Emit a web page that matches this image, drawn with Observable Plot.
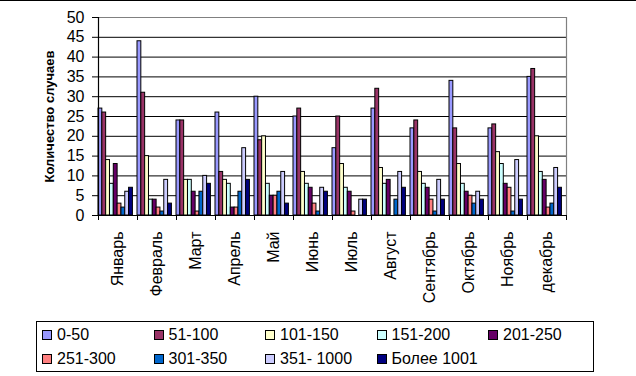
<!DOCTYPE html>
<html>
<head>
<meta charset="utf-8">
<script src="https://cdn.jsdelivr.net/npm/d3@7"></script>
<script src="https://cdn.jsdelivr.net/npm/@observablehq/plot@0.6"></script>
<style>
  html, body { margin: 0; padding: 0; background: #fff; }
  #wrap { position: relative; width: 636px; height: 376px; overflow: hidden; font-family: "Liberation Sans", Arial, sans-serif; }
  #topline { position: absolute; left: 0; top: 0; width: 636px; height: 1px; background: #000; z-index: 3; }
  #legend { position: absolute; left: 36px; top: 321px; width: 558px; height: 51px; border: 1px solid #000; box-sizing: border-box; }
  .item { position: absolute; height: 18px; }
  .sw { position: absolute; left: 0; top: 4px; width: 10px; height: 10px; border: 1px solid #000; box-sizing: border-box; }
  .lab { position: absolute; left: 15px; top: 0; font-size: 16px; line-height: 18px; white-space: nowrap; color: #000; }
</style>
</head>
<body>
<div id="wrap"><div id="topline"></div><div id="chart"></div><div id="legend"></div></div>
<script>
const months = ["Январь", "Февраль", "Март", "Апрель", "Май", "Июнь", "Июль", "Август", "Сентябрь", "Октябрь", "Ноябрь", "декабрь"];
const series = ["0-50", "51-100", "101-150", "151-200", "201-250", "251-300", "301-350", "351- 1000", "Более 1001"];
const colors = ["#9999FF", "#993366", "#FFFFCC", "#CCFFFF", "#660066", "#FF8080", "#0066CC", "#CCCCFF", "#000080"];

const v0_50     = [27, 44, 24, 26, 30, 25, 17, 27, 22, 34, 22, 35];
const v51_100   = [26, 31, 24, 11, 19, 27, 25, 32, 24, 22, 23, 37];
const v101_150  = [14, 15, 9, 9, 20, 11, 13, 12, 11, 13, 16, 20];
const v151_200  = [8, 4, 9, 8, 8, 8, 7, 8, 8, 8, 13, 11];
const v201_250  = [13, 4, 6, 2, 5, 7, 6, 9, 7, 6, 8, 9];
const v251_300  = [3, 2, 1, 2, 5, 3, 1, 0, 4, 5, 7, 2];
const v301_350  = [2, 1, 6, 6, 6, 1, 0, 4, 1, 3, 1, 3];
const v351_1000 = [6, 9, 10, 17, 11, 7, 4, 11, 9, 6, 14, 12];
const vOver1001 = [7, 3, 8, 9, 3, 6, 4, 7, 4, 4, 4, 7];

const yTicks = [0, 5, 10, 15, 20, 25, 30, 35, 40, 45, 50];
const yTitle = "Количество случаев";

const seriesValues = [v0_50, v51_100, v101_150, v151_200, v201_250, v251_300, v301_350, v351_1000, vOver1001];
const data = [];
seriesValues.forEach((vals, i) => vals.forEach((v, m) => data.push({month: months[m], series: series[i], i, value: v})));

const xMax = 10.2; // cluster width + gap inside each month band
const first = months[0], last = months[months.length - 1];

const chart = Plot.plot({
  width: 636,
  height: 320,
  marginLeft: 97,
  marginRight: 70,
  marginTop: 17,
  marginBottom: 105,
  style: {fontFamily: "'Liberation Sans', Arial, sans-serif", fontSize: "16px", color: "#000", background: "transparent", overflow: "visible"},
  fx: {domain: months, paddingInner: 0, paddingOuter: 0, tickSize: 0, tickRotate: -90, tickPadding: 16, label: null},
  x: {domain: [0, xMax], axis: null},
  y: {domain: [0, 50], ticks: yTicks, tickSize: 6, tickPadding: 8, label: null},
  color: {domain: series, range: colors},
  marks: [
    Plot.ruleY(yTicks.filter(t => t > 0 && t < 50), {stroke: "#000", strokeWidth: 1}),
    Plot.ruleY([50], {stroke: "#808080", strokeWidth: 1.2}),
    Plot.rect(data.filter(d => d.value > 0), {fx: "month", x1: "i", x2: d => d.i + 1, y1: 0, y2: "value", fill: "series", stroke: "#000", strokeWidth: 1}),
    Plot.ruleY([0], {stroke: "#000", strokeWidth: 1.2}),
    Plot.ruleX([{m: first}], {fx: "m", x: () => 0, y1: 0, y2: 50, stroke: "#000", strokeWidth: 1.2}),
    Plot.ruleX([{m: last}], {fx: "m", x: () => xMax, y1: 0, y2: 50, stroke: "#808080", strokeWidth: 1.2}),
    Plot.ruleX(months.map(m => ({m})), {fx: "m", x: () => 0, y1: 0, y2: 0, insetBottom: -5, stroke: "#000"}),
    Plot.ruleX([{m: last}], {fx: "m", x: () => xMax, y1: 0, y2: 0, insetBottom: -5, stroke: "#000"}),
    Plot.text([{m: first, t: yTitle}], {fx: "m", text: "t", frameAnchor: "left", textAnchor: "middle", dx: -49, rotate: -90, fontWeight: "bold", fontSize: 13, fill: "#000"})
  ]
});
document.getElementById("chart").appendChild(chart);

const legend = document.getElementById("legend");
series.forEach((s, i) => {
  const col = i < 5 ? i : i - 5;
  const row = i < 5 ? 0 : 1;
  const item = document.createElement("div");
  item.className = "item";
  item.style.left = (5 + col * 111.5) + "px";
  item.style.top = (4 + row * 24) + "px";
  const sw = document.createElement("div");
  sw.className = "sw";
  sw.style.background = colors[i];
  const lab = document.createElement("div");
  lab.className = "lab";
  lab.textContent = s;
  item.appendChild(sw);
  item.appendChild(lab);
  legend.appendChild(item);
});
</script>
</body>
</html>
